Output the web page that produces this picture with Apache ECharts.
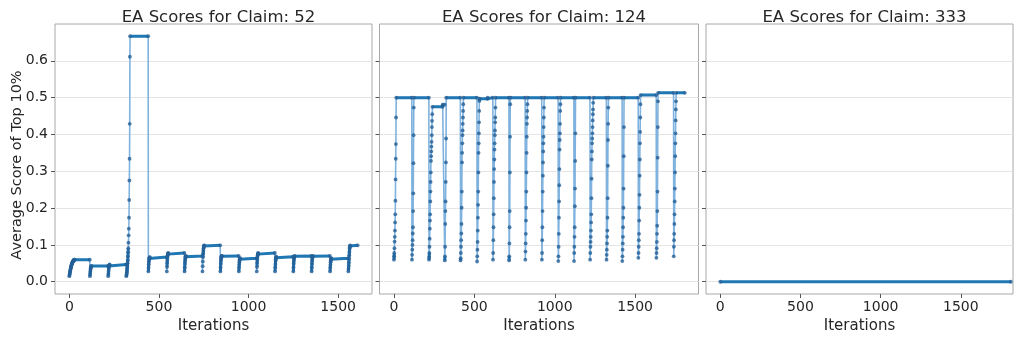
<!DOCTYPE html>
<html>
<head>
<meta charset="utf-8">
<script src="https://cdn.jsdelivr.net/npm/echarts@6/dist/echarts.min.js"></script>
<style>
html,body{margin:0;padding:0;background:#fff;}
#chart{width:1015px;height:339px;}
</style>
</head>
<body>
<div id="chart"></div>
<script>
// ---------- DATA ----------
const titles = ['EA Scores for Claim: 52', 'EA Scores for Claim: 124', 'EA Scores for Claim: 333'];
const xTickValues = [0, 500, 1000, 1500];
const yTickValues = [0, 0.1, 0.2, 0.3, 0.4, 0.5, 0.6];
const yAxisLabel = 'Average Score of Top 10%';
const xAxisLabel = 'Iterations';

// each segment: [startIteration, endIteration, values at consecutive iterations from start, optional extra [offset, value] points]
const claim52Segments = [
  [0, 115, [0.015,0.018,0.021,0.024,0.027,0.030,0.032,0.035,0.037,0.039,0.041,0.043,0.045,0.047,0.048,0.050,0.051,0.052,0.053,0.054,0.055,0.056,0.057,0.057,0.058,0.058,0.059,0.059,0.060,0.060]],
  [115, 217, [0.015,0.021,0.027,0.032,0.036,0.039,0.041,0.042,0.043]],
  [217, 318, [0.015,0.022,0.029,0.035,0.040,0.043,0.045,0.046,0.047]],
  [318, 441, [0.015,0.018,0.021,0.025,0.030,0.036,0.043,0.050,0.058,0.069,0.080,0.091,0.106,0.126,0.144,0.174,0.222,0.275,0.334,0.429,0.611,0.667]],
  [441, 544, [0.028,0.038,0.047,0.054,0.059,0.063,0.065,0.066,0.067]],
  [544, 643, [0.028,0.040,0.051,0.060,0.067,0.072,0.075,0.077,0.078]],
  [643, 743, [0.028,0.039,0.049,0.056,0.062,0.066,0.068,0.069,0.070]],
  [743, 843, [0.028,0.042,0.055,0.067,0.077,0.085,0.091,0.095,0.097,0.098,0.099]],
  [843, 946, [0.028,0.039,0.049,0.057,0.063,0.067,0.069,0.070,0.070]],
  [946, 1046, [0.028,0.038,0.046,0.053,0.058,0.061,0.063,0.064]],
  [1046, 1148, [0.028,0.040,0.051,0.060,0.067,0.072,0.075,0.077,0.078]],
  [1148, 1250, [0.028,0.039,0.048,0.056,0.061,0.065,0.067,0.068]],
  [1250, 1352, [0.028,0.039,0.049,0.057,0.063,0.067,0.069,0.070]],
  [1352, 1455, [0.028,0.039,0.049,0.057,0.063,0.067,0.069,0.070]],
  [1455, 1557, [0.028,0.038,0.046,0.053,0.058,0.061,0.063,0.064]],
  [1557, 1609, [0.028,0.035,0.043,0.052,0.062,0.072,0.081,0.089,0.094,0.097,0.099]]
];

const claim124Segments = [
  [0, 112, [0.060,0.069,0.078,0.091,0.109,0.122,0.139,0.161,0.183,0.220,0.278,0.334,0.374,0.446,0.500]],
  [112, 218, [0.060,0.073,0.087,0.100,0.113,0.131,0.148,0.192,0.240,0.322,0.398,0.473,0.500]],
  [218, 316, [0.060,0.067,0.078,0.095,0.117,0.144,0.166,0.183,0.218,0.245,0.271,0.297,0.328,0.341,0.354,0.367,0.380,0.398,0.420,0.437,0.455,0.475], [[84,0.475],[85,0.481]]],
  [316, 414, [0.058,0.069,0.095,0.157,0.192,0.218,0.271,0.324,0.389,0.500]],
  [414, 517, [0.058,0.064,0.078,0.095,0.113,0.131,0.157,0.201,0.245,0.324,0.350,0.376,0.398,0.411,0.429,0.446,0.464,0.482,0.500]],
  [517, 616, [0.055,0.069,0.087,0.108,0.139,0.174,0.209,0.245,0.297,0.350,0.376,0.403,0.433,0.464,0.491,0.497], [[65,0.497],[66,0.500]]],
  [616, 716, [0.060,0.078,0.113,0.148,0.183,0.227,0.271,0.306,0.332,0.359,0.376,0.398,0.411,0.433,0.446,0.473,0.500]],
  [716, 817, [0.058,0.069,0.104,0.148,0.192,0.297,0.394,0.482,0.500]],
  [817, 920, [0.060,0.082,0.104,0.130,0.166,0.201,0.245,0.297,0.350,0.394,0.429,0.446,0.464,0.482,0.500]],
  [920, 1022, [0.060,0.078,0.113,0.148,0.192,0.245,0.288,0.324,0.354,0.376,0.394,0.420,0.446,0.473,0.500]],
  [1022, 1120, [0.056,0.069,0.095,0.130,0.174,0.218,0.262,0.306,0.359,0.385,0.403,0.429,0.464,0.482,0.500]],
  [1120, 1220, [0.056,0.078,0.095,0.122,0.148,0.205,0.253,0.328,0.403,0.500]],
  [1220, 1322, [0.060,0.078,0.095,0.108,0.122,0.139,0.161,0.183,0.227,0.280,0.332,0.354,0.376,0.389,0.403,0.420,0.438,0.455,0.468,0.486,0.500]],
  [1322, 1420, [0.060,0.073,0.087,0.104,0.122,0.139,0.174,0.227,0.315,0.385,0.429,0.473,0.500]],
  [1420, 1520, [0.056,0.069,0.087,0.104,0.122,0.148,0.174,0.201,0.253,0.341,0.420,0.500]],
  [1520, 1632, [0.065,0.078,0.095,0.113,0.130,0.166,0.201,0.236,0.288,0.332,0.376,0.407,0.446,0.482,0.507]],
  [1632, 1740, [0.065,0.078,0.091,0.108,0.130,0.152,0.192,0.245,0.337,0.420,0.490,0.513]],
  [1740, 1809, [0.069,0.095,0.113,0.130,0.157,0.183,0.218,0.253,0.297,0.341,0.376,0.403,0.438,0.468,0.490,0.513]]
];

const claim333Segments = [
  [0, 1812, [0.0]]
];

// ---------- BUILD ----------
function buildPoints(segs) {
  const pts = [];
  segs.forEach((seg, si) => {
    const s = seg[0], e = seg[1], ramp = seg[2], extra = seg[3] || [];
    ramp.forEach((v, i) => pts.push([s + i, v]));
    extra.forEach(p => pts.push([s + p[0], p[1]]));
    const last = pts[pts.length - 1][1];
    const endX = si === segs.length - 1 ? e : e - 1;
    pts.push([endX, last]);
  });
  return pts;
}
function buildThick(pts) {
  const out = [];
  for (let i = 1; i < pts.length; i++) {
    const dy = Math.abs(pts[i][1] - pts[i - 1][1]);
    if (dy < 0.012) {
      if (out.length === 0 || out[out.length - 1] !== pts[i - 1]) out.push(pts[i - 1]);
      out.push(pts[i]);
    } else if (out.length && out[out.length - 1] !== null) {
      out.push(null);
    }
  }
  return out;
}

const FONT = 'DejaVu Sans';
const TEXT = '#262626';
const panels = [claim52Segments, claim124Segments, claim333Segments].map(buildPoints);

const grids = [
  {left: 55, top: 24, width: 317, height: 278},
  {left: 379.5, top: 24, width: 319, height: 278},
  {left: 706, top: 24, width: 307, height: 278}
];
const xRanges = [[-80, 1689], [-90, 1894], [-89, 1825]];

const option = {
  backgroundColor: '#ffffff',
  animation: false,
  title: grids.map((g, i) => ({
    text: titles[i],
    left: g.left + g.width / 2,
    top: 4,
    textAlign: 'center',
    textStyle: {fontFamily: FONT, fontSize: 16.5, fontWeight: 'normal', color: TEXT}
  })),
  grid: grids.map(g => Object.assign({show: true, borderColor: '#a8a8a8', borderWidth: 1, backgroundColor: 'transparent'}, g)),
  xAxis: grids.map((g, i) => ({
    gridIndex: i, type: 'value', min: xRanges[i][0], max: xRanges[i][1],
    axisLine: {show: false, onZero: false},
    axisTick: {show: true, customValues: xTickValues, length: 4, lineStyle: {color: '#555'}},
    axisLabel: {customValues: xTickValues, formatter: v => String(v), fontFamily: FONT, fontSize: 14, color: TEXT, margin: 6},
    splitLine: {show: false},
    name: xAxisLabel, nameLocation: 'middle', nameGap: 25,
    nameTextStyle: {fontFamily: FONT, fontSize: 15, color: TEXT}
  })),
  yAxis: grids.map((g, i) => ({
    gridIndex: i, type: 'value', min: -0.0333, max: 0.7,
    axisLine: {show: false, onZero: false},
    axisTick: {show: true, customValues: yTickValues, length: 4, lineStyle: {color: '#555'}},
    axisLabel: {show: i === 0, customValues: yTickValues, formatter: v => v.toFixed(1), fontFamily: FONT, fontSize: 14, color: TEXT, margin: 7},
    splitLine: {show: true, lineStyle: {color: '#e4e4e4', width: 1}}
  })),
  graphic: [{
    type: 'text', x: 17.5, y: 165, rotation: Math.PI / 2,
    style: {text: yAxisLabel, fontFamily: FONT, fontSize: 14.5, fill: TEXT, textAlign: 'center', textVerticalAlign: 'middle'}
  }],
  series: []
};

panels.forEach((pts, i) => {
  option.series.push({
    type: 'line', xAxisIndex: i, yAxisIndex: i, data: pts, showSymbol: false,
    lineStyle: {color: '#7fb2de', width: 1.6}, z: 2, silent: true
  });
  option.series.push({
    type: 'line', xAxisIndex: i, yAxisIndex: i, data: buildThick(pts), showSymbol: false, connectNulls: false,
    lineStyle: {color: '#1f77b4', width: 3}, z: 3, silent: true
  });
  option.series.push({
    type: 'scatter', xAxisIndex: i, yAxisIndex: i, data: pts, symbolSize: 3.8,
    itemStyle: {color: '#245f96'}, z: 4, silent: true
  });
});

const chart = echarts.init(document.getElementById('chart'), null, {renderer: 'canvas'});
chart.setOption(option);
</script>
</body>
</html>
